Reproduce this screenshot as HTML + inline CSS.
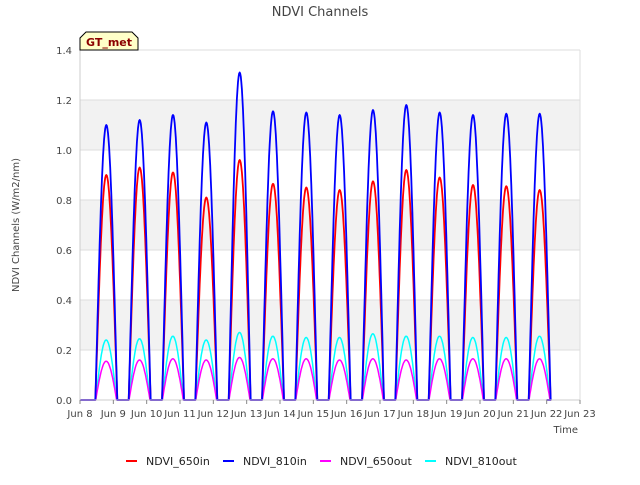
<!DOCTYPE html>
<html><head><meta charset="utf-8"><style>
body{margin:0;background:#fff;font-family:"Liberation Sans","DejaVu Sans",sans-serif}
svg text{font-family:"DejaVu Sans","Liberation Sans",sans-serif}
</style></head><body>
<svg id="c" width="640" height="480" xmlns="http://www.w3.org/2000/svg">
<rect width="640" height="480" fill="#fff"/>
<text x="320" y="16" text-anchor="middle" font-size="13" fill="#444">NDVI Channels</text>
<g id="grid"></g>
<g id="series"></g>
<g id="axes"></g>
<text x="19" y="225" transform="rotate(-90 19 225)" text-anchor="middle" font-size="10" fill="#444">NDVI Channels (W/m2/nm)</text>
<text x="578" y="433" text-anchor="end" font-size="10" fill="#444">Time</text>
<g>
<path d="M80,50 L80,38 L86,32 L132,32 L138,38 L138,50 Z" fill="#ffffc8" stroke="#000" stroke-width="1"/>
<text x="109" y="46" text-anchor="middle" font-size="11" font-weight="bold" fill="#8b0000">GT_met</text>
</g>
<g>
<g><line x1="126" y1="461" x2="137" y2="461" stroke="#f00" stroke-width="2"/><text x="146" y="465" font-size="11" fill="#222">NDVI_650in</text></g>
<g><line x1="223" y1="461" x2="234" y2="461" stroke="#00f" stroke-width="2"/><text x="243" y="465" font-size="11" fill="#222">NDVI_810in</text></g>
<g><line x1="320" y1="461" x2="331" y2="461" stroke="#f0f" stroke-width="2"/><text x="340" y="465" font-size="11" fill="#222">NDVI_650out</text></g>
<g><line x1="425" y1="461" x2="436" y2="461" stroke="#0ff" stroke-width="2"/><text x="445" y="465" font-size="11" fill="#222">NDVI_810out</text></g>
</g>
</svg>
<script>
const days=[8,9,10,11,12,13,14,15,16,17,18,19,20,21];
const peak810in=[1.10,1.12,1.14,1.11,1.31,1.155,1.15,1.14,1.16,1.18,1.15,1.14,1.145,1.145];
const peak650in=[0.90,0.93,0.91,0.81,0.96,0.865,0.85,0.84,0.875,0.92,0.89,0.86,0.855,0.84];
const peak650out=[0.155,0.16,0.165,0.16,0.17,0.165,0.165,0.16,0.165,0.16,0.165,0.165,0.165,0.165];
const peak810out=[0.24,0.245,0.255,0.24,0.27,0.255,0.25,0.25,0.265,0.255,0.255,0.25,0.25,0.255];
const yTicks=[0,0.2,0.4,0.6,0.8,1.0,1.2,1.4];
const xTickLabels=["Jun 8","Jun 9","Jun 10","Jun 11","Jun 12","Jun 13","Jun 14","Jun 15","Jun 16","Jun 17","Jun 18","Jun 19","Jun 20","Jun 21","Jun 22","Jun 23"];
const X0=80,X1=580,Y0=400,Y1=50,D0=8,D1=23,V1=1.4;
const xs=d=>X0+(d-D0)/(D1-D0)*(X1-X0);
const ys=v=>Y0-v/V1*(Y0-Y1);
const NS="http://www.w3.org/2000/svg";
function mk(tag,attrs,parent){const e=document.createElementNS(NS,tag);for(const k in attrs)e.setAttribute(k,attrs[k]);parent.appendChild(e);return e;}
const grid=document.getElementById('grid'),axes=document.getElementById('axes'),ser=document.getElementById('series');
for(let i=0;i<yTicks.length-1;i++){
  if(i%2==1){const r=mk('rect',{x:X0,y:ys(yTicks[i+1]),width:X1-X0,height:ys(yTicks[i])-ys(yTicks[i+1]),fill:'#f2f2f2'},grid);
  
  }
}
yTicks.forEach(v=>{
  const l=mk('line',{x1:X0,x2:X1,y1:ys(v),y2:ys(v),stroke:'#ddd'},grid);
  
  
  const t=mk('text',{x:X0-8,y:ys(v)+4,'text-anchor':'end','font-size':10,fill:'#444'},axes);
  t.textContent=v.toFixed(1);
  
  
});
mk('line',{x1:X1,x2:X1,y1:Y1,y2:Y0,stroke:'#ddd'},grid);
mk('line',{x1:X0,x2:X0,y1:Y1,y2:Y0,stroke:'#ccc'},axes);
mk('line',{x1:X0,x2:X1,y1:Y0,y2:Y0,stroke:'#ccc'},axes);
xTickLabels.forEach((s,i)=>{
  const x=xs(D0+i);
  mk('line',{x1:x,x2:x,y1:Y0,y2:Y0+4,stroke:'#888'},axes);
  const t=mk('text',{x:x,y:Y0+17,'text-anchor':'middle','font-size':10,fill:'#444'},axes);
  t.textContent=s;
  
  
});
function series(peaks,color,name,pw,w,s0,e0){
  let d='M'+xs(D0)+','+ys(0);
  days.forEach((day,i)=>{
    const s=day+s0,e=day+e0;
    d+=' L'+xs(s).toFixed(1)+','+ys(0);
    for(let k=0;k<=40;k++){const t=s+(e-s)*k/40;const v=peaks[i]*Math.pow(Math.sin(Math.PI*k/40),pw);d+=' L'+xs(t).toFixed(1)+','+ys(v).toFixed(1);}
  });
  d+=' L'+xs(22)+','+ys(0);
  const p=mk('path',{d:d,fill:'none',stroke:color,'stroke-width':w,'stroke-linejoin':'round'},ser);
  
  
}
series(peak810out,'#00ffff','series-810out',1.0,1.5,0.47,1.1);
series(peak650out,'#ff00ff','series-650out',1.0,1.5,0.47,1.1);
series(peak650in,'#ff0000','series-650in',1.05,1.8,0.46,1.12);
series(peak810in,'#0000ff','series-810in',1.05,1.8,0.46,1.12);
</script>
</body></html>
